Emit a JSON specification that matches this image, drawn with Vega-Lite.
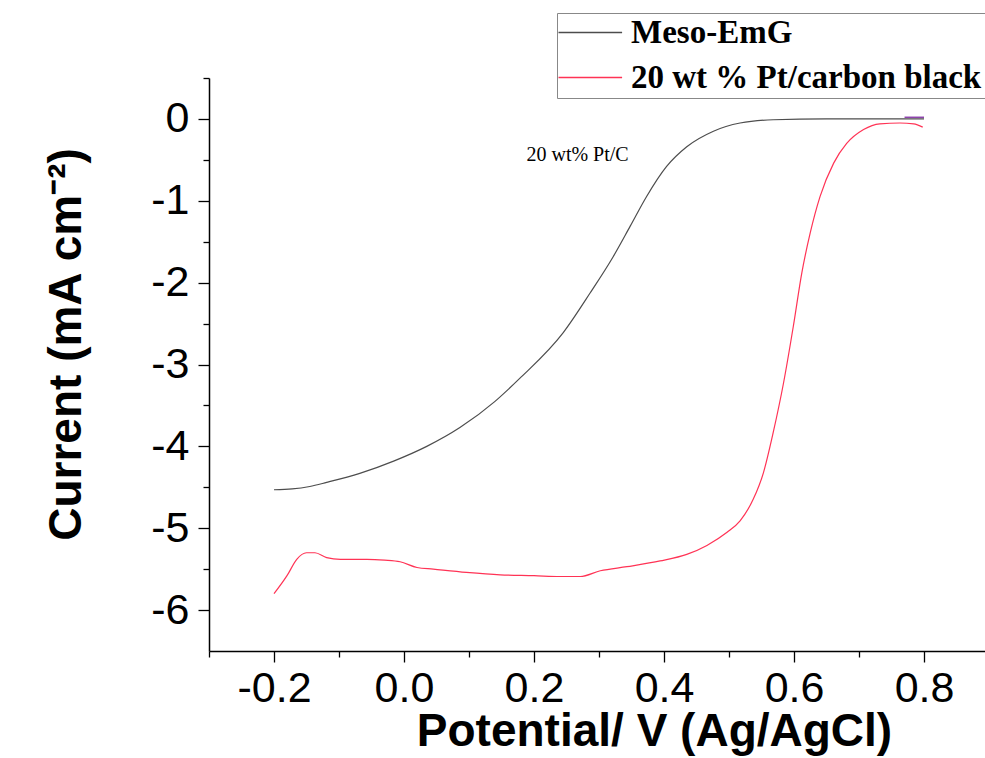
{
  "$schema": "https://vega.github.io/schema/vega-lite/v6.json",
  "autosize": {"type": "none"},
  "width": 776,
  "height": 573,
  "padding": {"left": 209, "top": 78, "right": 0, "bottom": 107},
  "background": "white",
  "config": {
    "view": {"stroke": null},
    "axis": {
      "domainColor": "black",
      "domainWidth": 1.5,
      "tickColor": "black",
      "tickWidth": 1.3,
      "grid": false,
      "labelColor": "black",
      "labelFont": "Liberation Sans",
      "labelFontSize": 43,
      "titleColor": "black",
      "titleFont": "Liberation Sans",
      "titleFontWeight": "bold",
      "titleFontSize": 46
    }
  },
  "datasets": {
    "lsv": [
      {"potential": -0.2, "current": -4.53, "sample": "Meso-EmG"},
      {"potential": -0.172, "current": -4.52, "sample": "Meso-EmG"},
      {"potential": -0.145, "current": -4.49, "sample": "Meso-EmG"},
      {"potential": -0.119, "current": -4.44, "sample": "Meso-EmG"},
      {"potential": -0.068, "current": -4.33, "sample": "Meso-EmG"},
      {"potential": -0.016, "current": -4.18, "sample": "Meso-EmG"},
      {"potential": 0.035, "current": -4.0, "sample": "Meso-EmG"},
      {"potential": 0.086, "current": -3.77, "sample": "Meso-EmG"},
      {"potential": 0.14, "current": -3.45, "sample": "Meso-EmG"},
      {"potential": 0.178, "current": -3.17, "sample": "Meso-EmG"},
      {"potential": 0.245, "current": -2.61, "sample": "Meso-EmG"},
      {"potential": 0.286, "current": -2.13, "sample": "Meso-EmG"},
      {"potential": 0.322, "current": -1.68, "sample": "Meso-EmG"},
      {"potential": 0.348, "current": -1.31, "sample": "Meso-EmG"},
      {"potential": 0.373, "current": -0.95, "sample": "Meso-EmG"},
      {"potential": 0.404, "current": -0.58, "sample": "Meso-EmG"},
      {"potential": 0.435, "current": -0.34, "sample": "Meso-EmG"},
      {"potential": 0.476, "current": -0.15, "sample": "Meso-EmG"},
      {"potential": 0.517, "current": -0.05, "sample": "Meso-EmG"},
      {"potential": 0.568, "current": -0.01, "sample": "Meso-EmG"},
      {"potential": 0.65, "current": 0.0, "sample": "Meso-EmG"},
      {"potential": 0.8, "current": 0.0, "sample": "Meso-EmG"},

      {"potential": -0.2, "current": -5.8, "sample": "20 wt % Pt/carbon black"},
      {"potential": -0.18, "current": -5.58, "sample": "20 wt % Pt/carbon black"},
      {"potential": -0.165, "current": -5.38, "sample": "20 wt % Pt/carbon black"},
      {"potential": -0.15, "current": -5.3, "sample": "20 wt % Pt/carbon black"},
      {"potential": -0.137, "current": -5.3, "sample": "20 wt % Pt/carbon black"},
      {"potential": -0.119, "current": -5.36, "sample": "20 wt % Pt/carbon black"},
      {"potential": -0.098, "current": -5.38, "sample": "20 wt % Pt/carbon black"},
      {"potential": -0.057, "current": -5.38, "sample": "20 wt % Pt/carbon black"},
      {"potential": -0.03, "current": -5.39, "sample": "20 wt % Pt/carbon black"},
      {"potential": -0.006, "current": -5.41, "sample": "20 wt % Pt/carbon black"},
      {"potential": 0.02, "current": -5.48, "sample": "20 wt % Pt/carbon black"},
      {"potential": 0.045, "current": -5.5, "sample": "20 wt % Pt/carbon black"},
      {"potential": 0.096, "current": -5.54, "sample": "20 wt % Pt/carbon black"},
      {"potential": 0.148, "current": -5.57, "sample": "20 wt % Pt/carbon black"},
      {"potential": 0.2, "current": -5.58, "sample": "20 wt % Pt/carbon black"},
      {"potential": 0.24, "current": -5.59, "sample": "20 wt % Pt/carbon black"},
      {"potential": 0.271, "current": -5.59, "sample": "20 wt % Pt/carbon black"},
      {"potential": 0.302, "current": -5.52, "sample": "20 wt % Pt/carbon black"},
      {"potential": 0.343, "current": -5.47, "sample": "20 wt % Pt/carbon black"},
      {"potential": 0.394, "current": -5.4, "sample": "20 wt % Pt/carbon black"},
      {"potential": 0.435, "current": -5.32, "sample": "20 wt % Pt/carbon black"},
      {"potential": 0.466, "current": -5.21, "sample": "20 wt % Pt/carbon black"},
      {"potential": 0.497, "current": -5.05, "sample": "20 wt % Pt/carbon black"},
      {"potential": 0.517, "current": -4.91, "sample": "20 wt % Pt/carbon black"},
      {"potential": 0.537, "current": -4.65, "sample": "20 wt % Pt/carbon black"},
      {"potential": 0.553, "current": -4.32, "sample": "20 wt % Pt/carbon black"},
      {"potential": 0.568, "current": -3.83, "sample": "20 wt % Pt/carbon black"},
      {"potential": 0.584, "current": -3.22, "sample": "20 wt % Pt/carbon black"},
      {"potential": 0.599, "current": -2.53, "sample": "20 wt % Pt/carbon black"},
      {"potential": 0.612, "current": -1.88, "sample": "20 wt % Pt/carbon black"},
      {"potential": 0.625, "current": -1.39, "sample": "20 wt % Pt/carbon black"},
      {"potential": 0.64, "current": -0.95, "sample": "20 wt % Pt/carbon black"},
      {"potential": 0.661, "current": -0.54, "sample": "20 wt % Pt/carbon black"},
      {"potential": 0.681, "current": -0.3, "sample": "20 wt % Pt/carbon black"},
      {"potential": 0.707, "current": -0.13, "sample": "20 wt % Pt/carbon black"},
      {"potential": 0.732, "current": -0.06, "sample": "20 wt % Pt/carbon black"},
      {"potential": 0.763, "current": -0.05, "sample": "20 wt % Pt/carbon black"},
      {"potential": 0.784, "current": -0.06, "sample": "20 wt % Pt/carbon black"},
      {"potential": 0.798, "current": -0.1, "sample": "20 wt % Pt/carbon black"}
    ],
    "tail": [
      {"potential": 0.77, "current": 0.02},
      {"potential": 0.8, "current": 0.02}
    ],
    "note": [
      {"potential": 0.267, "current": -0.52, "label": "20 wt% Pt/C"}
    ]
  },
  "resolve": {"axis": {"x": "independent", "y": "independent"}},
  "layer": [
    {
      "data": {"name": "lsv"},
      "mark": {"type": "line", "strokeWidth": 1.2, "interpolate": "monotone", "clip": true},
      "encoding": {
        "x": {
          "field": "potential", "type": "quantitative",
          "scale": {"domain": [-0.3, 0.8938], "nice": false, "zero": false},
          "axis": {
            "orient": "bottom",
            "values": [-0.2, 0.0, 0.2, 0.4, 0.6, 0.8],
            "format": ".1f",
            "labelExpr": "replace(datum.label, '−', '-')",
            "tickSize": 11,
            "labelPadding": 5,
            "labelFlush": false,
            "labelOverlap": false,
            "title": "Potential/ V (Ag/AgCl)",
            "titleAlign": "center",
            "titleBaseline": "alphabetic",
            "titleX": 445,
            "titleY": 94
          }
        },
        "y": {
          "field": "current", "type": "quantitative",
          "scale": {"domain": [-6.5, 0.5], "nice": false, "zero": false},
          "axis": {
            "orient": "left",
            "values": [-6, -5, -4, -3, -2, -1, 0],
            "format": "d",
            "labelExpr": "replace(datum.label, '−', '-')",
            "tickSize": 11,
            "labelPadding": 9,
            "labelFlush": false,
            "labelOverlap": false,
            "title": "Current (mA cm⁻²)",
            "titleAngle": 270,
            "titleAlign": "center",
            "titleBaseline": "alphabetic",
            "titleX": -129,
            "titleY": 266
          }
        },
        "color": {
          "field": "sample", "type": "nominal",
          "scale": {
            "domain": ["Meso-EmG", "20 wt % Pt/carbon black"],
            "range": ["#4d4d4d", "#ff3355"]
          },
          "legend": {
            "orient": "none",
            "legendX": 348,
            "legendY": -65,
            "title": null,
            "symbolType": "M-1.5,0H3.8",
            "symbolSize": 576,
            "symbolStrokeWidth": 1.3,
            "labelFont": "Liberation Serif",
            "labelFontWeight": "bold",
            "labelFontSize": 33,
            "labelColor": "black",
            "labelLimit": 0,
            "labelOffset": 38,
            "strokeColor": "#888888",
            "fillColor": "white",
            "padding": 3,
            "rowPadding": 11
          }
        }
      }
    },
    {
      "data": {"name": "tail"},
      "mark": {"type": "line", "strokeWidth": 1.5, "color": "#8e44ad"},
      "encoding": {
        "x": {"field": "potential", "type": "quantitative", "axis": null},
        "y": {"field": "current", "type": "quantitative", "axis": null}
      }
    },
    {
      "data": {"name": "note"},
      "mark": {"type": "text", "font": "Liberation Serif", "fontSize": 20, "color": "black", "align": "center", "baseline": "alphabetic"},
      "encoding": {
        "x": {
          "field": "potential", "type": "quantitative",
          "axis": {
            "orient": "bottom",
            "values": [-0.3, -0.1, 0.1, 0.3, 0.5, 0.7],
            "tickSize": 6,
            "labels": false,
            "domain": false,
            "title": null
          }
        },
        "y": {
          "field": "current", "type": "quantitative",
          "axis": {
            "orient": "left",
            "values": [-5.5, -4.5, -3.5, -2.5, -1.5, -0.5, 0.5],
            "tickSize": 6,
            "labels": false,
            "domain": false,
            "title": null
          }
        },
        "text": {"field": "label", "type": "nominal"}
      }
    }
  ]
}
